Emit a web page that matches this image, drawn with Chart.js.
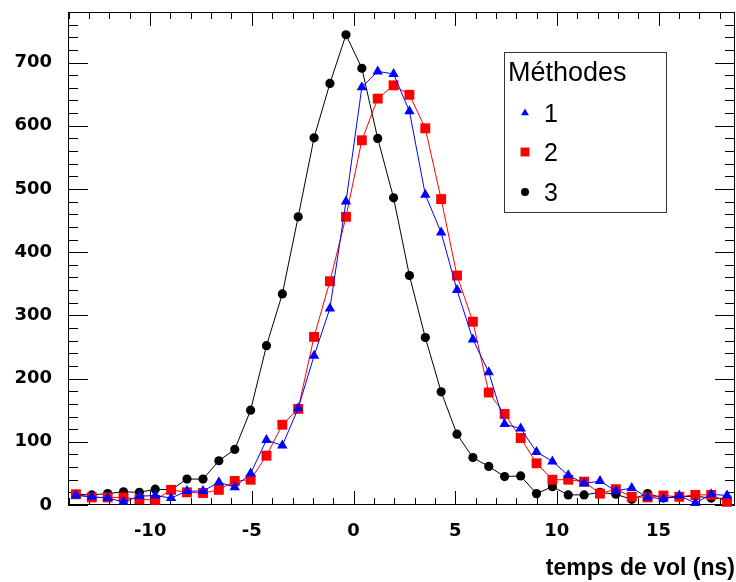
<!DOCTYPE html>
<html>
<head>
<meta charset="utf-8">
<script src="https://cdn.jsdelivr.net/npm/chart.js@4/dist/chart.umd.min.js"></script>
<style>
  html, body { margin: 0; padding: 0; background: #fff; }
  #wrap { width: 736px; height: 582px; }
</style>
</head>
<body>
<div id="wrap"><canvas id="c" width="736" height="582"></canvas></div>
<script>
// Time-of-flight bin centres (ns)
const binCenters = [
  -13.65, -12.87, -12.09, -11.31, -10.53, -9.75, -8.97, -8.19, -7.40, -6.62,
  -5.84, -5.06, -4.28, -3.50, -2.72, -1.94, -1.16, -0.37, 0.41, 1.19,
  1.97, 2.75, 3.53, 4.31, 5.09, 5.87, 6.65, 7.43, 8.22, 9.00,
  9.78, 10.56, 11.34, 12.12, 12.90, 13.68, 14.46, 15.24, 16.02, 16.81,
  17.59, 18.37
];

// Counts per bin for each method
const methode1 = [
  15, 13, 11, 5, 14, 15, 11, 22, 22, 36,
  28, 50, 103, 94, 153, 236, 311, 480, 661, 686,
  682, 623, 491, 431, 340, 262, 210, 128, 121, 84,
  69, 47, 34, 38, 22, 27, 12, 10, 15, 3,
  17, 15
];
const methode2 = [
  17, 12, 12, 12, 9, 8, 24, 20, 19, 24,
  38, 40, 78, 127, 152, 266, 354, 456, 577, 643,
  664, 649, 596, 484, 363, 290, 178, 144, 106, 66,
  40, 40, 37, 18, 25, 13, 12, 15, 13, 16,
  16, 5
];
const methode3 = [
  17, 16, 18, 21, 20, 25, 24, 41, 41, 70,
  88, 150, 252, 334, 456, 581, 667, 744, 691, 580,
  486, 363, 265, 179, 112, 75, 61, 45, 46, 18,
  29, 16, 16, 20, 17, 9, 18, 11, 13, 14,
  11, 10
];

const seriesLabels = ['1', '2', '3'];
const legendTitle = 'Méthodes';
const xAxisTitle = 'temps de vol (ns)';
const xTickValues = [-10, -5, 0, 5, 10, 15];
const yTickValues = [0, 100, 200, 300, 400, 500, 600, 700];

const SANS = "'Liberation Sans', Arial, Helvetica, sans-serif";
const TICK_FONT = "'DejaVu Sans', 'Liberation Sans', sans-serif";

// Plot frame inside the 736x582 canvas
const FRAME = { left: 68, top: 12, right: 735, bottom: 505 };

function toPoints(values) {
  return binCenters.map((x, i) => ({ x: x, y: values[i] }));
}

// Inward tick marks on all four sides plus the frame
const frameTicks = {
  id: 'frameTicks',
  beforeDatasetsDraw(chart) {
    const { ctx, chartArea: a, scales } = chart;
    const xs = scales.x, ys = scales.y;
    ctx.save();
    ctx.strokeStyle = '#000';
    ctx.lineWidth = 1;
    ctx.beginPath();
    for (let v = Math.ceil(xs.min); v <= xs.max; v += 1) {
      const px = Math.round(xs.getPixelForValue(v)) + 0.5;
      const len = (v % 5 === 0) ? 14 : 7;
      ctx.moveTo(px, a.bottom); ctx.lineTo(px, a.bottom - len);
      ctx.moveTo(px, a.top); ctx.lineTo(px, a.top + len);
    }
    for (let v = 0; v <= ys.max; v += 20) {
      const py = Math.round(ys.getPixelForValue(v)) + 0.5;
      const len = (v % 100 === 0) ? 20 : 10;
      ctx.moveTo(a.left, py); ctx.lineTo(a.left + len, py);
      ctx.moveTo(a.right, py); ctx.lineTo(a.right - len, py);
    }
    ctx.stroke();
    ctx.strokeRect(Math.round(a.left) + 0.5, Math.round(a.top) + 0.5,
                   Math.round(a.right - a.left) - 1, Math.round(a.bottom - a.top) - 1);
    ctx.restore();
  }
};

// Boxed legend with title in the upper right of the plot
const boxLegend = {
  id: 'boxLegend',
  afterDraw(chart) {
    const { ctx } = chart;
    const bx = 504.5, by = 52.5, bw = 162, bh = 160;
    ctx.save();
    ctx.fillStyle = '#fff';
    ctx.fillRect(bx, by, bw, bh);
    ctx.strokeStyle = '#333';
    ctx.lineWidth = 1;
    ctx.strokeRect(bx, by, bw, bh);
    ctx.fillStyle = '#000';
    ctx.textBaseline = 'alphabetic';
    ctx.textAlign = 'left';
    ctx.font = '27px ' + SANS;
    ctx.fillText(legendTitle, 508, 81);
    ctx.font = '25px ' + SANS;
    const rowY = [113, 152, 192];
    chart.data.datasets.forEach((ds, i) => {
      const style = {
        pointStyle: ds.pointStyle,
        radius: ds.legendRadius,
        borderWidth: 0,
        rotation: 0
      };
      ctx.fillStyle = ds.pointBackgroundColor;
      ctx.strokeStyle = ds.pointBackgroundColor;
      Chart.helpers.drawPoint(ctx, style, 525, rowY[i]);
      ctx.fillStyle = '#000';
      ctx.fillText(ds.label, 544, rowY[i] + 9);
    });
    ctx.restore();
  }
};

function noEdgePadding(s) {
  s.paddingTop = 0; s.paddingBottom = 0; s.paddingLeft = 0; s.paddingRight = 0;
}

new Chart(document.getElementById('c'), {
  type: 'line',
  data: {
    datasets: [
      {
        label: seriesLabels[0],
        data: toPoints(methode1),
        borderColor: '#0000ff',
        pointBackgroundColor: '#0000ff',
        pointStyle: 'triangle',
        pointRadius: 6,
        legendRadius: 4.5
      },
      {
        label: seriesLabels[1],
        data: toPoints(methode2),
        borderColor: '#ff0000',
        pointBackgroundColor: '#ff0000',
        pointStyle: 'rect',
        pointRadius: 7,
        legendRadius: 6.3
      },
      {
        label: seriesLabels[2],
        data: toPoints(methode3),
        borderColor: '#000000',
        pointBackgroundColor: '#000000',
        pointStyle: 'circle',
        pointRadius: 4.6,
        legendRadius: 4
      }
    ].map(d => Object.assign({
      borderWidth: 1,
      pointBorderWidth: 0,
      pointHoverRadius: d.pointRadius,
      tension: 0,
      fill: false,
      clip: 8
    }, d))
  },
  options: {
    responsive: false,
    animation: false,
    devicePixelRatio: 1,
    layout: {
      autoPadding: false,
      padding: { left: 0, right: 736 - FRAME.right, top: FRAME.top, bottom: 0 }
    },
    plugins: { legend: { display: false }, tooltip: { enabled: false } },
    scales: {
      x: {
        type: 'linear',
        min: -14.04,
        max: 18.76,
        grid: { display: false, drawTicks: false },
        border: { display: false },
        afterBuildTicks: s => { s.ticks = xTickValues.map(v => ({ value: v })); },
        afterFit: s => { s.height = 582 - FRAME.bottom; noEdgePadding(s); },
        ticks: {
          color: '#000',
          padding: 16,
          maxRotation: 0,
          font: { family: TICK_FONT, size: 18, weight: 'bold' }
        },
        title: {
          display: true,
          text: xAxisTitle,
          align: 'end',
          color: '#000',
          font: { family: SANS, size: 23, weight: 'bold', lineHeight: 1 },
          padding: { top: 0, bottom: 2 }
        }
      },
      y: {
        type: 'linear',
        min: 0,
        max: 780,
        grid: { display: false, drawTicks: false },
        border: { display: false },
        afterBuildTicks: s => { s.ticks = yTickValues.map(v => ({ value: v })); },
        afterFit: s => { s.width = FRAME.left; noEdgePadding(s); },
        ticks: {
          color: '#000',
          padding: 16,
          font: { family: TICK_FONT, size: 18, weight: 'bold' }
        }
      }
    }
  },
  plugins: [frameTicks, boxLegend]
});
</script>
</body>
</html>
